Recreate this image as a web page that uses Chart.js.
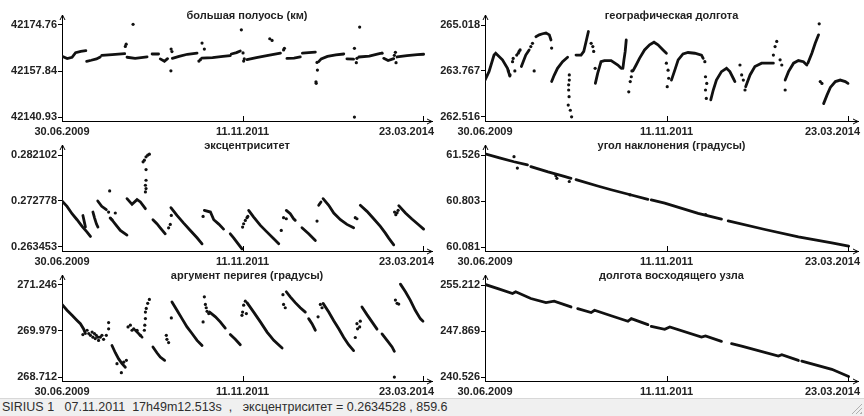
<!DOCTYPE html>
<html>
<head>
<meta charset="utf-8">
<script src="https://cdn.jsdelivr.net/npm/chart.js@4/dist/chart.umd.min.js"></script>
<style>
  body { margin: 0; background: #fff; width: 864px; height: 416px; overflow: hidden; position: relative; }
  canvas { position: absolute; }
  #status {
    position: absolute; left: 0; top: 398px; width: 864px; height: 18px;
    background: #f0f0f0; border-top: 1px solid #d8d8d8; box-sizing: border-box;
    font: 12.5px "Liberation Sans", Arial, sans-serif; color: #2e2e2e;
    line-height: 17px; padding-left: 2px; white-space: pre;
  }
  #grip {
    position: absolute; right: 2px; bottom: 2px; width: 11px; height: 11px;
    background: repeating-linear-gradient(135deg, transparent 0 2px, #b0b0b0 2px 3px);
    clip-path: polygon(100% 0, 100% 100%, 0 100%);
  }
</style>
</head>
<body>
<canvas id="c0" width="460" height="140" style="left:0;top:0"></canvas>
<canvas id="c1" width="428" height="140" style="left:436px;top:0"></canvas>
<canvas id="c2" width="460" height="140" style="left:0;top:130px"></canvas>
<canvas id="c3" width="428" height="140" style="left:436px;top:130px"></canvas>
<canvas id="c4" width="460" height="140" style="left:0;top:260px"></canvas>
<canvas id="c5" width="428" height="140" style="left:436px;top:260px"></canvas>
<div id="status">SIRIUS 1   07.11.2011  17h49m12.513s  ,   эксцентриситет = 0.2634528 , 859.6<div id="grip"></div></div>
<script>
// x: days since 30.06.2009
const xTickDays = [0, 864, 1727];
const xTickLabels = ['30.06.2009', '11.11.2011', '23.03.2014'];

// большая полуось (км)
const semiAxisTicks = [42140.93, 42157.84, 42174.76];
const semiAxisLabels = ['42140.93', '42157.84', '42174.76'];
const semiAxisRuns = [
  [[0,42163.3],[25,42162.4],[48,42162.9],[65,42164.6],[90,42165.1],[114,42165.3]],
  [[118,42161.4],[140,42161.8],[165,42162.3],[183,42163.0]],
  [[190,42163.6],[240,42163.9],[300,42164.2]],
  [[311,42162.9],[350,42162.5],[407,42163.0]],
  [[431,42164.1],[462,42164.1]],
  [[470,42162.3],[490,42161.4],[505,42162.4]],
  [[528,42162.5],[560,42163.2],[600,42164.0],[646,42164.4]],
  [[668,42162.6],[720,42162.8],[770,42163.2],[805,42163.5]],
  [[810,42164.1],[835,42164.6],[853,42165.2]],
  [[885,42162.0],[930,42162.8],[980,42163.5],[1045,42164.4]],
  [[1076,42162.5],[1110,42162.6],[1140,42163.0]],
  [[1150,42164.4],[1180,42164.6],[1212,42164.8]],
  [[1228,42161.3],[1240,42162.3],[1270,42163.2],[1310,42163.8],[1348,42164.1]],
  [[1363,42162.3],[1395,42162.2]],
  [[1420,42163.0],[1470,42163.3],[1523,42164.3]],
  [[1539,42162.5],[1560,42161.7],[1587,42162.4]],
  [[1603,42163.0],[1650,42163.5],[1700,42163.9],[1730,42164.0]]
];
const semiAxisDots = [
  [303,42166.9],[307,42167.7],[340,42175.0],[521,42157.9],[522,42165.9],[526,42165.0],
  [655,42161.5],[662,42162.0],[670,42168.1],[681,42165.9],[858,42173.0],[866,42164.5],
  [869,42161.5],[872,42162.3],[994,42169.7],[1005,42169.1],[1060,42165.6],[1064,42166.2],
  [1220,42161.0],[1222,42158.2],[1215,42153.9],[1216,42153.3],[1399,42166.2],[1399,42140.9],
  [1408,42160.9],[1411,42162.5],[1424,42174.0],[1531,42164.4],[1595,42164.7],[1598,42160.9],[1590,42163.6]
];

// географическая долгота
const longitudeTicks = [262.516, 263.767, 265.018];
const longitudeLabels = ['262.516', '263.767', '265.018'];
const longitudeRuns = [
  [[0,263.52],[19,263.75],[43,264.20],[51,264.25],[83,264.07],[107,263.84],[118,263.63]],
  [[173,263.89],[194,264.20],[210,264.34]],
  [[242,264.70],[258,264.75],[274,264.78],[290,264.80],[306,264.75],[314,264.61]],
  [[317,263.48],[329,263.65],[345,263.84],[369,264.02],[393,264.14]],
  [[433,264.20],[457,264.20],[470,264.30],[481,264.57],[492,264.84]],
  [[525,263.43],[536,263.70],[552,264.02],[568,264.05],[600,264.05],[632,263.93],[648,263.84]],
  [[656,263.84],[661,264.07],[667,264.30],[672,264.61]],
  [[704,263.77],[719,263.93],[735,264.11],[759,264.34],[783,264.48],[804,264.55],[823,264.48],[847,264.34],[863,264.25]],
  [[887,263.52],[903,263.79],[919,264.07],[942,264.23],[966,264.27],[998,264.25],[1030,264.20],[1038,264.11]],
  [[1074,262.98],[1086,263.25],[1101,263.52],[1125,263.75],[1149,263.84],[1165,263.75],[1181,263.57],[1189,263.48]],
  [[1240,263.34],[1261,263.66],[1284,263.89],[1316,263.98],[1348,263.98],[1372,263.98]],
  [[1428,263.52],[1444,263.75],[1468,263.98],[1491,264.05],[1515,264.02],[1531,263.93]],
  [[1536,263.98],[1555,264.25],[1571,264.52],[1587,264.75]],
  [[1611,262.88],[1627,263.11],[1643,263.32],[1667,263.48],[1690,263.52],[1714,263.48],[1727,263.43]]
];
const longitudeDots = [
  [111,263.77],[119,263.66],[131,264.02],[134,264.11],[142,263.77],[151,264.20],[158,264.25],
  [162,264.30],[167,264.34],[234,263.77],[218,264.43],[226,264.52],[317,264.39],
  [401,263.66],[401,263.52],[398,263.39],[398,263.25],[400,263.07],[396,262.84],[406,262.70],[412,262.52],
  [505,264.52],[513,264.43],[517,264.30],[524,263.84],[684,263.20],[691,263.48],[699,263.77],[696,263.61],
  [863,263.98],[871,263.79],[874,263.57],[867,263.34],[1046,264.02],[1049,263.61],[1055,263.43],
  [1049,263.25],[1053,263.02],[1213,263.93],[1221,263.66],[1229,263.52],[1237,263.25],
  [1372,264.20],[1380,264.43],[1388,264.57],[1404,264.07],[1412,263.93],[1428,263.25],
  [1590,265.05],[1595,263.48],[1603,263.43]
];

// эксцентриситет
const eccTicks = [0.263453, 0.272778, 0.282102];
const eccLabels = ['0.263453', '0.272778', '0.282102'];
const eccRuns = [
  [[0,0.27278],[24,0.27169],[48,0.27020],[72,0.26898],[96,0.26763],[120,0.26647],[136,0.26559]],
  [[100,0.26983],[108,0.26830],[112,0.26749]],
  [[148,0.27054],[156,0.26932],[165,0.26810],[172,0.26749]],
  [[171,0.27278],[190,0.27170],[212,0.27102]],
  [[235,0.26918],[255,0.26810],[279,0.26681],[311,0.26587]],
  [[311,0.27325],[335,0.27210],[359,0.27305],[375,0.27258],[399,0.27122]],
  [[435,0.26898],[454,0.26817],[470,0.26735],[494,0.26613]],
  [[521,0.27142],[550,0.26986],[582,0.26830],[614,0.26681],[646,0.26532],[670,0.26410]],
  [[681,0.27088],[710,0.27054],[726,0.26898],[750,0.26810],[773,0.26708]],
  [[805,0.26613],[821,0.26532],[840,0.26424],[861,0.26308]],
  [[893,0.27088],[917,0.26952],[949,0.26783],[981,0.26647],[1013,0.26512],[1037,0.26410]],
  [[1073,0.27088],[1092,0.27020],[1108,0.26918],[1116,0.26885]],
  [[1148,0.26735],[1180,0.26613],[1212,0.26478]],
  [[1228,0.27190],[1239,0.27258]],
  [[1249,0.27325],[1276,0.27190],[1300,0.27034],[1332,0.26898],[1363,0.26803],[1395,0.26735]],
  [[1427,0.27190],[1459,0.27068],[1491,0.26918],[1523,0.26763],[1547,0.26627],[1563,0.26525],[1587,0.26390]],
  [[1611,0.27183],[1643,0.27034],[1674,0.26912],[1706,0.26796],[1730,0.26708]]
];
const eccDots = [
  [228,0.27481],[223,0.27054],[231,0.26932],[239,0.26898],[255,0.27034],
  [399,0.27461],[402,0.27529],[399,0.27597],[402,0.27698],[402,0.27915],[388,0.28071],
  [394,0.28105],[402,0.28173],[410,0.28207],[418,0.28227],
  [510,0.26735],[518,0.26803],[523,0.26986],[675,0.26966],
  [864,0.26749],[869,0.26817],[877,0.26885],[885,0.26939],[889,0.26966],
  [1049,0.26681],[1060,0.26939],[1073,0.26918],[1220,0.26871],[1403,0.26939],[1411,0.26918],
  [1591,0.27054],[1603,0.27040],[1608,0.27088],[1597,0.27000]
];

// угол наклонения (градусы)
const inclTicks = [60.081, 60.803, 61.526];
const inclLabels = ['60.081', '60.803', '61.526'];
const inclRuns = [
  [[0,61.544],[69,61.48],[138,61.42],[202,61.37]],
  [[218,61.344],[300,61.26],[377,61.19],[409,61.16]],
  [[433,61.14],[536,61.039],[600,60.98],[696,60.898],[775,60.83]],
  [[791,60.82],[855,60.77],[1014,60.61],[1125,60.52]],
  [[1157,60.49],[1332,60.356],[1491,60.241],[1650,60.146],[1730,60.094]]
];
const inclDots = [[138,61.50],[154,61.32],[337,61.20],[342,61.16],[401,61.11],[690,60.90],[1050,60.59]];

// аргумент перигея (градусы)
const perigeeTicks = [268.712, 269.979, 271.246];
const perigeeLabels = ['268.712', '269.979', '271.246'];
const perigeeRuns = [
  [[0,270.71],[24,270.55],[48,270.41],[72,270.27],[88,270.18],[104,270.03],[112,269.91]],
  [[239,269.58],[255,269.38],[271,269.21],[287,269.08],[303,268.98]],
  [[351,270.00],[383,269.81]],
  [[435,269.54],[454,269.38],[470,269.26],[491,269.17]],
  [[526,270.78],[550,270.55],[574,270.32],[598,270.09],[622,269.91],[646,269.72],[670,269.58]],
  [[706,270.50],[734,270.37],[757,270.23],[781,270.06]],
  [[805,269.88],[829,269.75],[853,269.60]],
  [[885,270.76],[917,270.50],[949,270.23],[981,269.95],[1013,269.72],[1053,269.51]],
  [[1073,271.06],[1092,270.92],[1116,270.76],[1140,270.62],[1164,270.50]],
  [[1180,270.32],[1196,270.18],[1212,270.00]],
  [[1249,270.74],[1276,270.50],[1300,270.26],[1324,270.04],[1348,269.80],[1371,269.60],[1395,269.44]],
  [[1435,270.64],[1459,270.43],[1483,270.23],[1507,270.03]],
  [[1531,269.90],[1555,269.72],[1579,269.54],[1590,269.42]],
  [[1619,271.27],[1643,271.06],[1666,270.83],[1690,270.55],[1714,270.32],[1727,270.25]]
];
const perigeeDots = [
  [100,269.88],[120,270.00],[128,269.91],[136,269.86],[144,269.95],[148,269.81],[155,269.91],
  [159,269.77],[164,269.86],[171,269.81],[175,269.72],[183,269.81],[191,269.86],[199,269.75],[212,269.86],
  [223,270.21],[223,270.04],[263,269.08],[284,268.83],[295,269.12],[308,269.17],
  [316,270.09],[327,270.14],[335,270.00],[343,270.04],[359,270.00],[375,269.86],
  [394,270.00],[396,270.14],[399,270.32],[399,270.50],[403,270.60],[410,270.74],[418,270.85],
  [499,269.86],[502,269.75],[510,269.66],[523,270.34],[675,270.23],
  [681,270.92],[686,270.71],[690,270.62],[694,270.52],[702,270.46],
  [861,270.41],[864,270.50],[869,270.69],[877,270.80],[882,270.46],
  [1057,270.98],[1060,270.71],[1068,270.62],[1225,270.37],[1236,270.71],[1244,270.62],
  [1403,269.80],[1411,270.18],[1414,270.04],[1424,270.09],[1427,270.25],
  [1590,268.71],[1595,270.83],[1603,270.74],[1611,270.72]
];

// долгота восходящего узла
const nodeTicks = [240.526, 247.869, 255.212];
const nodeLabels = ['240.526', '247.869', '255.212'];
const nodeRuns = [
  [[0,255.30],[65,254.60],[131,253.85],[146,254.12],[218,253.05],[290,252.41],[329,252.62],[409,251.71]],
  [[441,251.45],[505,250.81],[521,251.18],[600,250.30],[680,249.42],[696,249.85],[775,248.88]],
  [[791,248.60],[855,248.14],[879,248.51],[1030,246.91],[1049,247.07],[1125,246.21]],
  [[1173,245.84],[1221,245.47],[1396,243.87],[1412,244.08],[1491,243.17]],
  [[1507,243.05],[1650,241.75],[1730,240.61]]
];
const nodeDots = [];

const panels = [
  { id: 'c0', title: 'большая полуось (км)', ticks: semiAxisTicks, labels: semiAxisLabels, runs: semiAxisRuns, dots: semiAxisDots, left: true },
  { id: 'c1', title: 'географическая долгота', ticks: longitudeTicks, labels: longitudeLabels, runs: longitudeRuns, dots: longitudeDots, left: false },
  { id: 'c2', title: 'эксцентриситет', ticks: eccTicks, labels: eccLabels, runs: eccRuns, dots: eccDots, left: true },
  { id: 'c3', title: 'угол наклонения (градусы)', ticks: inclTicks, labels: inclLabels, runs: inclRuns, dots: inclDots, left: false },
  { id: 'c4', title: 'аргумент перигея (градусы)', ticks: perigeeTicks, labels: perigeeLabels, runs: perigeeRuns, dots: perigeeDots, left: true },
  { id: 'c5', title: 'долгота восходящего узла', ticks: nodeTicks, labels: nodeLabels, runs: nodeRuns, dots: nodeDots, left: false }
];

Chart.defaults.font.family = '"Liberation Sans", Arial, sans-serif';
const FONT_B = 'bold 11px "Liberation Sans", Arial, sans-serif';
const INK = '#111';

// axis arrows, inward x ticks, date labels and panel title
const decor = {
  id: 'decor',
  afterDraw(chart, args, opts) {
    const { ctx, chartArea: a } = chart;
    const x = chart.scales.x;
    ctx.save();
    ctx.strokeStyle = '#000';
    ctx.lineWidth = 1;
    ctx.beginPath();
    ctx.moveTo(a.left - 2, a.top + 5); ctx.lineTo(a.left + 0.5, a.top); ctx.lineTo(a.left + 3, a.top + 5);
    ctx.moveTo(a.right - 5, a.bottom - 2); ctx.lineTo(a.right, a.bottom + 0.5); ctx.lineTo(a.right - 5, a.bottom + 3);
    xTickDays.forEach(d => {
      const px = Math.round(x.getPixelForValue(d)) + 0.5;
      ctx.moveTo(px, a.bottom); ctx.lineTo(px, a.bottom - 5);
    });
    ctx.stroke();

    ctx.font = FONT_B;
    ctx.fillStyle = '#222';
    ctx.textBaseline = 'middle';
    ctx.textAlign = 'left';
    xTickLabels.forEach((t, i) => {
      const px = x.getPixelForValue(xTickDays[i]);
      const w = ctx.measureText(t).width;
      const lx = Math.min(px - w / 2, a.right + 2 - w);
      ctx.fillText(t, lx, a.bottom + 11);
    });

    ctx.textAlign = 'center';
    ctx.fillText(opts.text, (a.left + a.right) / 2, 16);
    ctx.restore();
  }
};

panels.forEach(p => {
  const yw = p.left ? 62 : 49;
  const padR = p.left ? 28 : 6;
  const tickSpan = p.left ? 361 : 363;
  const areaW = p.left ? 370 : 373;
  const lo = p.ticks[0], hi = p.ticks[2], r = hi - lo;

  const datasets = p.runs.map(run => ({
    data: run.map(([x, y]) => ({ x, y })),
    showLine: true,
    borderColor: INK,
    borderWidth: 2.8,
    borderCapStyle: 'round',
    pointRadius: 0
  }));
  datasets.push({
    data: p.dots.map(([x, y]) => ({ x, y })),
    showLine: false,
    pointRadius: 1.6,
    pointBorderWidth: 0,
    backgroundColor: INK
  });

  new Chart(document.getElementById(p.id), {
    type: 'scatter',
    data: { datasets },
    options: {
      responsive: false,
      animation: false,
      devicePixelRatio: 1,
      layout: { padding: { top: 15, left: 0, right: padR, bottom: 0 } },
      plugins: { legend: { display: false }, tooltip: { enabled: false }, decor: { text: p.title } },
      scales: {
        x: {
          type: 'linear',
          min: 0,
          max: xTickDays[2] * areaW / tickSpan,
          ticks: { display: false },
          grid: { display: false },
          border: { display: true, color: '#000', width: 1 },
          afterFit: s => { s.height = 19; s.paddingLeft = 0; s.paddingRight = 0; }
        },
        y: {
          type: 'linear',
          min: lo - r * 4 / 92,
          max: hi + r * 10 / 92,
          afterBuildTicks: s => { s.ticks = p.ticks.map(v => ({ value: v })); },
          ticks: {
            callback: (v, i) => p.labels[i],
            font: { size: 11, weight: 'bold' },
            color: '#222',
            padding: 1
          },
          grid: { display: true, drawOnChartArea: false, drawTicks: true, tickLength: 4, color: '#000' },
          border: { display: true, color: '#000', width: 1 },
          afterFit: s => { s.width = yw; s.paddingTop = 0; s.paddingBottom = 0; }
        }
      }
    },
    plugins: [decor]
  });
});
</script>
</body>
</html>
